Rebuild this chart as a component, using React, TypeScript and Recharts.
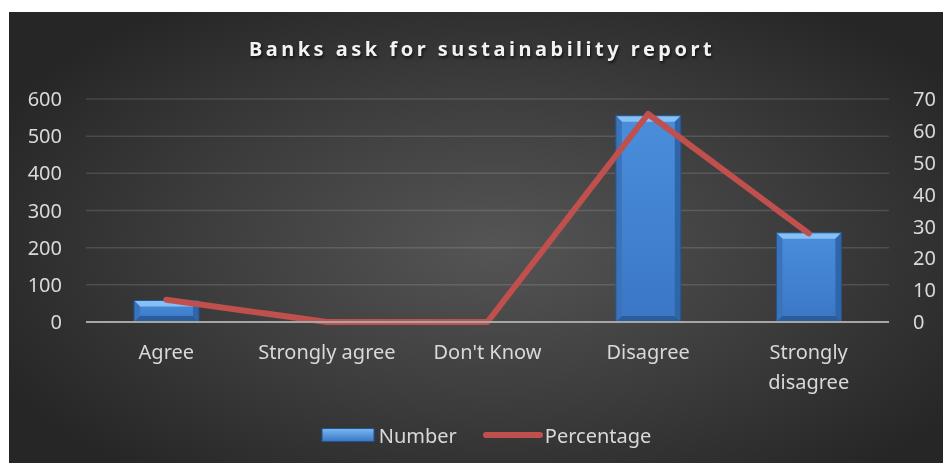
import React from "react";
import { ComposedChart, Bar, Line, XAxis, YAxis, CartesianGrid, Legend } from "recharts";

const categories = ["Agree", "Strongly agree", "Don't Know", "Disagree", "Strongly disagree"];
const numberValues = [58, 0, 0, 555, 240];
const percentageValues = [7, 0, 0, 65.3, 27.8];
const leftTicks = [0, 100, 200, 300, 400, 500, 600];
const rightTicks = [0, 10, 20, 30, 40, 50, 60, 70];
const title = "Banks ask for sustainability report";

const data = categories.map((c, i) => ({
  name: c,
  Number: numberValues[i],
  Percentage: percentageValues[i],
}));

const FONT = "'Noto Sans', 'Open Sans', sans-serif";
const TEXT = "#d9d9d9";

const BevelBar = (props: any) => {
  const { x, y, width, height } = props;
  if (!height || height <= 0) return null;
  const w = width;
  const h = height;
  const b = Math.min(6, h / 3, w / 2);
  return (
    <g>
      <rect x={x} y={y} width={w} height={h} fill="url(#barFace)" />
      <polygon points={`${x},${y} ${x + w},${y} ${x + w - b},${y + b} ${x + b},${y + b}`} fill="#86c0f4" />
      <polygon points={`${x},${y} ${x + b},${y + b} ${x + b},${y + h - b} ${x},${y + h}`} fill="#3a73ba" />
      <polygon points={`${x + w},${y} ${x + w},${y + h} ${x + w - b},${y + h - b} ${x + w - b},${y + b}`} fill="#2f66aa" />
      <polygon points={`${x},${y + h} ${x + b},${y + h - b} ${x + w - b},${y + h - b} ${x + w},${y + h}`} fill="#2b5d9d" />
      <rect x={x} y={y} width={w} height={h} fill="none" stroke="#21528c" strokeWidth={1} />
    </g>
  );
};

const XTick = (props: any) => {
  const { x, y, payload } = props;
  const label: string = payload.value;
  const lines = label.length > 15 ? label.split(" ") : [label];
  return (
    <text x={x} y={y + 37} textAnchor="middle" fill={TEXT} fontSize={20} fontFamily={FONT}>
      {lines.map((l, i) => (
        <tspan key={i} x={x} dy={i === 0 ? 0 : 30}>
          {l}
        </tspan>
      ))}
    </text>
  );
};

const LegendContent = () => (
  <div
    style={{
      height: 40,
      display: "flex",
      alignItems: "center",
      justifyContent: "center",
      paddingLeft: 20,
      fontFamily: FONT,
      fontSize: 20,
      color: TEXT,
    }}
  >
    <svg width={54} height={16} style={{ marginRight: 4 }}>
      <defs>
        <linearGradient id="legFace" x1="0" y1="0" x2="0" y2="1">
          <stop offset="0%" stopColor="#7ab8f2" />
          <stop offset="100%" stopColor="#3a77c4" />
        </linearGradient>
      </defs>
      <rect x={1} y={1.5} width={52} height={13} fill="url(#legFace)" stroke="#21528c" strokeWidth={1} />
    </svg>
    <span style={{ marginRight: 26 }}>Number</span>
    <svg width={60} height={16} style={{ marginRight: 2 }}>
      <line x1={3} y1={8} x2={57} y2={8} stroke="#c0504d" strokeWidth={6} strokeLinecap="round" />
    </svg>
    <span>Percentage</span>
  </div>
);

export default function App() {
  return (
    <div
      style={{
        position: "fixed",
        top: 12,
        left: 9,
        width: 934,
        height: 451,
        background: "radial-gradient(ellipse 60% 65% at 52% 52%, #555555 0%, #3c3c3c 55%, #262626 100%)",
        fontFamily: FONT,
      }}
    >
      <div
        style={{
          position: "absolute",
          top: 24,
          left: 0,
          width: 934,
          paddingLeft: 12,
          boxSizing: "border-box",
          textAlign: "center",
          color: "#f2f2f2",
          fontSize: 20,
          fontWeight: 700,
          letterSpacing: 3.5,
          lineHeight: "26px",
          textShadow: "1px 2px 3px rgba(0,0,0,0.7)",
        }}
      >
        {title}
      </div>
      <ComposedChart width={934} height={451} data={data} margin={{ top: 87, right: 0, left: 0, bottom: 8 }}>
        <defs>
          <linearGradient id="barFace" x1="0" y1="0" x2="0" y2="1">
            <stop offset="0%" stopColor="#4a8edb" />
            <stop offset="100%" stopColor="#3a77c4" />
          </linearGradient>
        </defs>
        <CartesianGrid yAxisId="left" vertical={false} stroke="rgba(255,255,255,0.13)" strokeWidth={1.5} />
        <XAxis
          dataKey="name"
          height={93}
          tickLine={false}
          tickSize={0}
          tickMargin={0}
          axisLine={{ stroke: "#a6a6a6", strokeWidth: 2 }}
          tick={<XTick />}
          interval={0}
        />
        <YAxis
          yAxisId="left"
          orientation="left"
          width={77}
          domain={[0, 600]}
          ticks={leftTicks}
          axisLine={false}
          tickLine={false}
          tickSize={0}
          tickMargin={24}
          tick={{ fill: TEXT, fontSize: 20, fontFamily: FONT }}
        />
        <YAxis
          yAxisId="right"
          orientation="right"
          width={54}
          domain={[0, 70]}
          ticks={rightTicks}
          axisLine={false}
          tickLine={false}
          tickSize={0}
          tickMargin={24}
          tick={{ fill: TEXT, fontSize: 20, fontFamily: FONT, textAnchor: "start" }}
        />
        <Bar yAxisId="left" dataKey="Number" barSize={65} shape={<BevelBar />} isAnimationActive={false} />
        <Line
          yAxisId="right"
          type="linear"
          dataKey="Percentage"
          stroke="#c0504d"
          strokeWidth={6}
          strokeLinecap="round"
          strokeLinejoin="round"
          dot={false}
          activeDot={false}
          isAnimationActive={false}
        />
        <Legend verticalAlign="bottom" content={<LegendContent />} wrapperStyle={{ height: 40 }} />
      </ComposedChart>
    </div>
  );
}
